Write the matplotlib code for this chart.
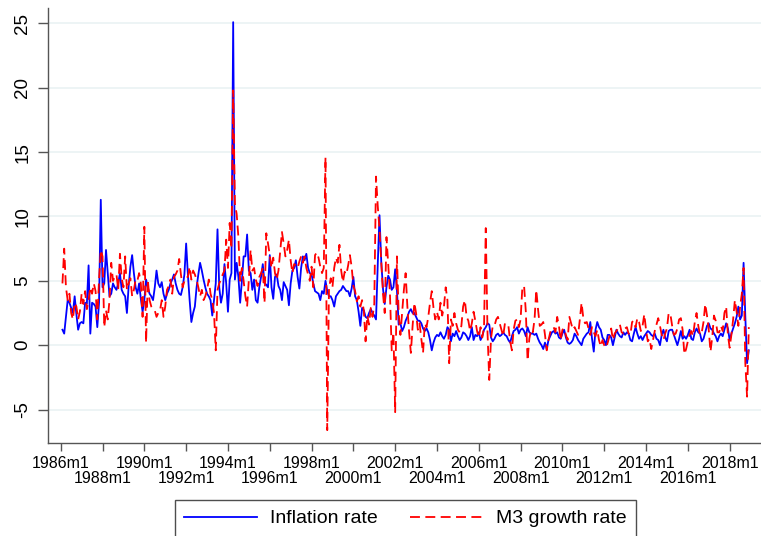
import numpy as np
import matplotlib
matplotlib.use("Agg")
import matplotlib.pyplot as plt
from matplotlib.lines import Line2D

# ---------------- data (monthly, 1986m2 .. 2018m12) ----------------
first_month = (1986, 2)
inflation = [
    1.2, 0.9, 2.2, 3.5, 3.3, 2.9, 2.5, 3.8, 2.4, 1.2, 1.7,
    1.8, 1.7, 3.3, 3.2, 6.2, 0.9, 3.3, 3.2, 3.0, 1.4, 3.3, 11.3,
    4.5, 4.8, 7.4, 5.6, 3.8, 4.0, 4.8, 4.5, 4.3, 4.8, 5.6, 4.3,
    4.0, 3.8, 2.5, 4.6, 6.1, 7.0, 5.6, 4.5, 4.0, 4.8, 3.6, 2.6,
    3.5, 5.1, 4.5, 4.0, 3.8, 3.5, 4.5, 5.8, 4.8, 4.5, 4.9, 4.0,
    3.5, 4.0, 4.3, 4.8, 5.1, 5.5, 4.8, 4.3, 4.0, 3.9, 4.5, 5.5,
    7.9, 5.5, 3.5, 1.8, 2.5, 3.0, 4.5, 5.5, 6.4, 5.8, 5.1, 4.5,
    4.0, 3.8, 3.5, 2.3, 3.5, 4.8, 9.0, 4.5, 3.3, 4.0, 6.3, 4.8,
    2.6, 5.1, 5.6, 25.1, 5.1, 6.4, 5.3, 3.3, 5.0, 6.9, 6.9, 8.6,
    5.8, 5.6, 4.3, 5.1, 3.5, 3.3, 4.5, 5.3, 6.3, 4.8, 4.7, 4.5,
    7.0, 4.5, 3.6, 5.3, 5.5, 4.6, 4.3, 3.5, 4.9, 4.6, 4.3, 3.1,
    4.8, 5.8, 6.0, 6.6, 5.3, 4.4, 6.0, 6.9, 6.6, 7.1, 6.0, 5.6,
    5.5, 4.8, 4.2, 4.1, 4.0, 3.5, 4.2, 4.0, 5.0, 4.2, 3.8, 3.8,
    3.5, 3.0, 3.8, 4.0, 4.2, 4.3, 4.6, 4.4, 4.2, 4.2, 3.8, 4.4,
    5.3, 3.8, 3.5, 2.6, 1.5, 2.9, 2.7, 2.2, 2.1, 2.5, 2.8, 2.5,
    2.3, 2.0, 6.3, 10.1, 6.5, 4.4, 3.2, 4.5, 5.4, 5.1, 4.3, 4.5,
    5.9, 4.3, 1.6, 1.7, 1.1, 1.4, 1.9, 2.2, 2.6, 2.8, 2.5, 2.5,
    2.2, 1.9, 1.9, 1.7, 1.3, 1.1, 1.3, 1.0, 0.4, -0.4, 0.2, 0.6,
    0.8, 0.7, 1.0, 0.7, 0.5, 0.8, 1.4, 1.2, 0.3, 0.9, 0.7, 1.1,
    0.7, 0.4, 0.6, 1.0, 0.9, 0.7, 0.4, 0.7, 1.4, 0.4, 0.8, 0.7,
    1.0, 0.4, 0.7, 1.2, 1.4, 1.7, 1.6, 0.6, 0.3, 0.5, 0.8, 0.9,
    0.7, 0.8, 1.0, 0.8, 0.7, 0.4, 0.2, 0.7, 1.1, 1.2, 1.4, 0.9,
    1.2, 1.3, 1.1, 0.7, 1.4, 1.0, 0.9, 0.9, 0.8, 0.9, 0.5, 0.2,
    0.0, -0.3, 0.2, -0.3, 0.4, 0.7, 1.0, 1.1, 0.9, 1.0, 0.6, 0.5,
    0.9, 1.2, 0.6, 0.2, 0.1, 0.2, 0.4, 0.9, 0.7, 0.4, 0.2, 0.0,
    0.5, 0.7, 0.9, 1.0, 1.8, 0.5, -0.5, 1.2, 1.8, 1.4, 1.2, 0.6,
    0.4, 0.0, 0.8, 0.8, 0.6, 0.0, 0.6, 1.2, 0.9, 0.7, 0.6, 1.0,
    0.8, 1.0, 0.9, 0.4, 0.3, 0.9, 1.4, 0.9, 0.5, 0.7, 0.4, 0.7,
    0.9, 1.1, 1.0, 0.8, 0.7, 0.9, 0.5, 0.4, 0.0, 0.8, 1.2, 0.6,
    0.3, 1.1, 1.2, 1.2, 0.8, 0.4, 0.0, 0.5, 1.1, 0.5, 0.7, 0.5,
    0.8, 1.2, 0.5, 0.4, 1.0, 1.3, 1.0, 0.9, 0.3, 0.5, 1.0, 1.5,
    1.7, 1.3, 1.2, 0.9, 0.7, 0.3, 0.7, 0.9, 0.7, 1.2, 1.7, 1.3,
    0.4, 0.9, 1.3, 1.7, 2.2, 3.0, 2.0, 2.3, 6.4, 2.2, -1.4, -0.4,
]
m3_growth = [
    4.8, 7.5, 4.5, 3.5, 4.0, 2.5, 2.0, 3.3, 3.0, 2.0, 2.6,
    4.0, 3.2, 4.2, 2.8, 3.5, 4.5, 4.0, 4.8, 4.2, 2.0, 5.1, 7.4,
    6.9, 1.4, 2.7, 2.0, 3.5, 6.4, 5.0, 5.3, 5.5, 4.3, 7.1, 5.2,
    4.5, 6.9, 4.3, 4.8, 5.2, 3.8, 4.3, 5.1, 5.0, 5.6, 4.8, 2.2,
    9.2, 0.2, 5.1, 3.5, 3.0, 2.8, 2.7, 2.2, 2.5, 2.7, 3.5, 2.2,
    3.0, 4.3, 4.6, 5.1, 4.0, 5.3, 5.5, 5.8, 6.7, 5.5, 4.5, 5.0,
    5.3, 5.3, 6.1, 5.1, 5.8, 5.5, 5.1, 4.5, 3.8, 4.3, 3.5, 3.8,
    4.3, 5.1, 4.0, 3.5, 2.5, -0.4, 4.3, 4.8, 5.1, 5.5, 5.8, 8.2,
    6.0, 9.5, 7.5, 19.8, 11.0, 10.2, 8.4, 5.0, 6.0, 5.0, 3.8, 3.0,
    5.1, 7.4, 5.8, 6.0, 5.1, 4.6, 5.3, 5.6, 6.0, 3.3, 8.7, 7.9,
    7.0, 6.0, 6.8, 5.6, 5.1, 5.8, 7.3, 8.8, 7.9, 6.9, 7.4, 8.2,
    6.6, 5.6, 6.3, 6.2, 6.0, 6.5, 6.9, 6.4, 6.9, 6.0, 5.5, 5.0,
    6.1, 4.5, 7.0, 7.2, 6.8, 6.1, 5.6, 6.0, 14.6, -6.6, 4.4, 5.2,
    4.5, 6.0, 6.8, 6.4, 7.8, 5.8, 4.9, 5.7, 5.5, 6.2, 7.0, 6.1,
    4.6, 4.2, 3.4, 3.8, 3.0, 3.5, 2.7, 0.3, 2.3, 1.6, 2.9, 2.2,
    3.2, 13.1, 10.8, 9.0, 6.5, 4.0, 2.5, 8.4, 6.3, 4.0, -0.4, 1.0,
    -5.2, 6.9, 2.5, 0.8, 2.5, 4.3, 5.6, 3.0, 1.0, -0.6, 1.5, 3.3,
    2.5, 1.2, 1.7, 0.5, -0.6, 1.7, 1.4, 2.2, 3.3, 4.2, 2.9, 2.0,
    2.6, 2.0, 3.3, 2.3, 3.0, 4.5, 3.5, -1.4, 2.0, 1.5, 2.5, 1.7,
    1.2, 1.0, 1.5, 3.0, 3.5, 2.2, 1.9, 1.1, 1.7, 2.6, 1.9, 1.1,
    0.6, 1.4, 0.6, 1.4, 9.1, 1.0, -2.7, 0.5, 1.5, 1.5, 2.0, 2.2,
    1.7, 1.2, 0.7, 1.7, 1.7, 1.5, 0.3, -0.4, 1.2, 1.9, 2.0, 1.4,
    2.0, 4.5, 4.6, 2.6, -1.2, 0.5, 1.2, 1.0, 2.0, 4.3, 2.8, 1.5,
    1.6, 1.8, 0.8, -0.4, 0.4, 1.0, 1.3, 1.4, 1.0, 2.2, 1.5, 0.4,
    1.2, 1.3, 0.8, 0.4, 2.2, 1.7, 1.2, 1.4, 1.1, 0.8, 2.0, 3.3,
    2.1, 1.7, 1.8, 1.3, 0.8, 1.4, 1.0, 0.7, 1.2, 0.4, -0.1, 0.4,
    0.0, -0.2, 0.2, 0.7, 1.3, 0.4, 0.9, 1.1, 1.3, 1.6, 1.0, 0.9,
    1.3, 1.4, 0.9, 0.8, 1.8, 1.9, 1.4, 2.1, 1.8, 1.1, 1.5, 2.4,
    1.2, 0.3, 0.5, -0.3, 0.4, 1.1, 1.6, 2.1, 1.5, 0.8, 0.4, 0.9,
    1.3, 2.5, 2.4, 1.5, 0.8, 0.9, 1.3, 2.0, 2.1, 1.2, -0.7, -0.3,
    0.3, 0.8, 1.1, 0.7, 1.8, 2.5, 1.5, 0.8, 1.0, 1.8, 3.2, 2.3,
    1.2, -0.5, 0.6, 2.3, 1.9, 1.0, 1.0, 1.5, 1.1, 2.5, 3.0, 0.8,
    -0.2, 0.8, 2.0, 3.5, 2.6, 1.5, 3.0, 4.0, 6.0, -1.4, -4.0, 1.4,
]
tick_years = list(range(1986, 2019, 2))
tick_labels = [f"{y}m1" for y in tick_years]
y_ticks = [-5, 0, 5, 10, 15, 20, 25]
series_names = ["Inflation rate", "M3 growth rate"]

# ---------------- x positions: months since 1986m1 ----------------
start = (first_month[0] - 1986) * 12 + (first_month[1] - 1)
x = start + np.arange(len(inflation))
x2 = start + np.arange(len(m3_growth))
tick_pos = [(y - 1986) * 12 for y in tick_years]

plt.rcParams['font.family'] = ['Liberation Sans', 'DejaVu Sans']

W, H = 761, 536
fig = plt.figure(figsize=(W / 100, H / 100), dpi=100)
ax = fig.add_axes([48 / W, 1 - 443 / H, (761 - 48) / W, (443 - 8) / H])

ax.set_xlim(-7.3, 402)
ax.set_ylim(-7.6, 26.2)

for yv in y_ticks:
    ax.axhline(yv, color='#eaf2f3', lw=1.2, zorder=0)

dash = (0, (5.5, 3.0))
ax.plot(x, inflation, color='#0000ff', lw=1.3, zorder=2,
        solid_joinstyle='round')
ax.plot(x2, m3_growth, color='#ff0000', lw=1.3, zorder=3, linestyle=dash)

for s in ['top', 'right']:
    ax.spines[s].set_visible(False)
for s in ['left', 'bottom']:
    ax.spines[s].set_color('#555555')
    ax.spines[s].set_linewidth(1.0)

ax.set_yticks(y_ticks)
ax.set_yticklabels([str(v) for v in y_ticks], rotation=90, va='center',
                   fontsize=13.5)
ax.tick_params(axis='y', length=7, width=1, color='#555555', pad=5)

# staggered x labels: first row on major ticks, second row on minor ticks
ax.set_xticks(tick_pos[0::2])
ax.set_xticklabels(tick_labels[0::2], fontsize=11.5)
ax.set_xticks(tick_pos[1::2], minor=True)
ax.set_xticklabels(tick_labels[1::2], minor=True, fontsize=11.5)
ax.tick_params(axis='x', which='major', length=6, width=1,
               color='#555555', pad=3)
ax.tick_params(axis='x', which='minor', length=6, width=1,
               color='#555555', pad=14.5)

handles = [Line2D([], [], color='#0000ff', lw=1.3),
           Line2D([], [], color='#ff0000', lw=1.3, linestyle=dash)]
leg = fig.legend(handles, series_names, loc='upper center',
                 bbox_to_anchor=(405.5 / W, 1 - 500 / H), ncol=2,
                 fontsize=14, frameon=True, fancybox=False,
                 handlelength=3.75, handletextpad=0.67, columnspacing=1.65,
                 borderpad=0.5, borderaxespad=0)
leg.get_frame().set_edgecolor('#222222')
leg.get_frame().set_linewidth(1.0)

fig.savefig('out.png', dpi=100)
